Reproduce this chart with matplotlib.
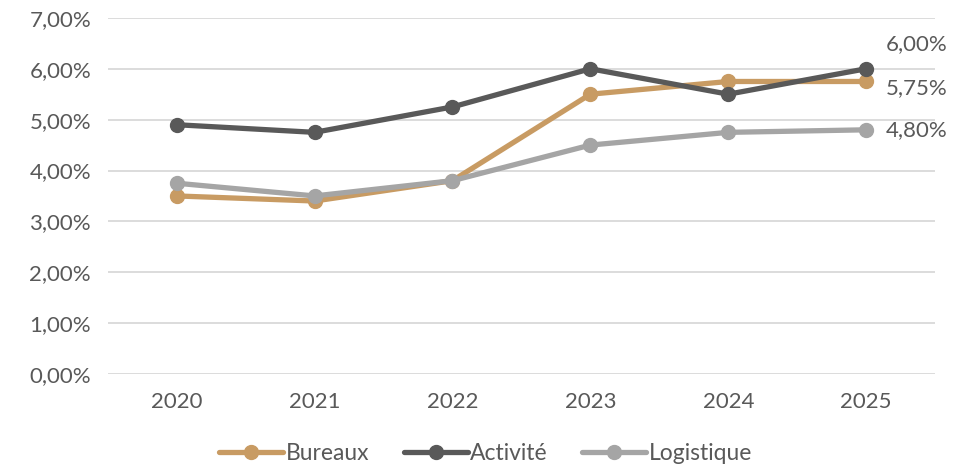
import matplotlib.pyplot as plt
from matplotlib.ticker import FuncFormatter

years = ["2020", "2021", "2022", "2023", "2024", "2025"]
bureaux = [3.50, 3.40, 3.80, 5.50, 5.75, 5.75]
activite = [4.90, 4.75, 5.25, 6.00, 5.50, 6.00]
logistique = [3.75, 3.50, 3.80, 4.50, 4.75, 4.80]

plt.rcParams['font.family'] = ['Lato', 'DejaVu Sans']
txt = '#595959'
fs = 16

fig = plt.figure(figsize=(9.71, 4.71), dpi=100)
ax = fig.add_axes([0.111, 0.206, 0.852, 0.756])

x = range(len(years))
series = [("Bureaux", bureaux, '#C89B63'),
          ("Activité", activite, '#595959'),
          ("Logistique", logistique, '#A5A5A5')]
for name, vals, col in series:
    ax.plot(x, vals, color=col, lw=3.8, marker='o', ms=10, label=name,
            solid_capstyle='round')

# end labels
ax.annotate("6,00%", (5, activite[-1]), xytext=(14, 18), textcoords='offset points',
            va='center', ha='left', fontsize=fs, color=txt)
ax.annotate("5,75%", (5, bureaux[-1]), xytext=(14, -5), textcoords='offset points',
            va='center', ha='left', fontsize=fs, color=txt)
ax.annotate("4,80%", (5, logistique[-1]), xytext=(14, 0), textcoords='offset points',
            va='center', ha='left', fontsize=fs, color=txt)

ax.set_xlim(-0.5, 5.5)
ax.set_ylim(0, 7)
ax.set_yticks(range(8))
ax.yaxis.set_major_formatter(FuncFormatter(lambda v, p: f"{v:.2f}%".replace('.', ',')))
ax.set_xticks(list(x))
ax.set_xticklabels(years)
ax.tick_params(length=0, labelsize=fs, colors=txt)
ax.tick_params(axis='y', pad=12)
ax.tick_params(axis='x', pad=13)
ax.grid(axis='y', color='#D9D9D9', lw=1.3)
ax.set_axisbelow(True)
for s in ax.spines.values():
    s.set_visible(False)

fig.legend(loc='lower center', ncol=3, frameon=False, fontsize=fs + 0.5,
           labelcolor=txt, bbox_to_anchor=(0.5, -0.028), handlelength=2.8,
           handletextpad=0.1, columnspacing=1.5)

fig.savefig('out.png', dpi=100)
